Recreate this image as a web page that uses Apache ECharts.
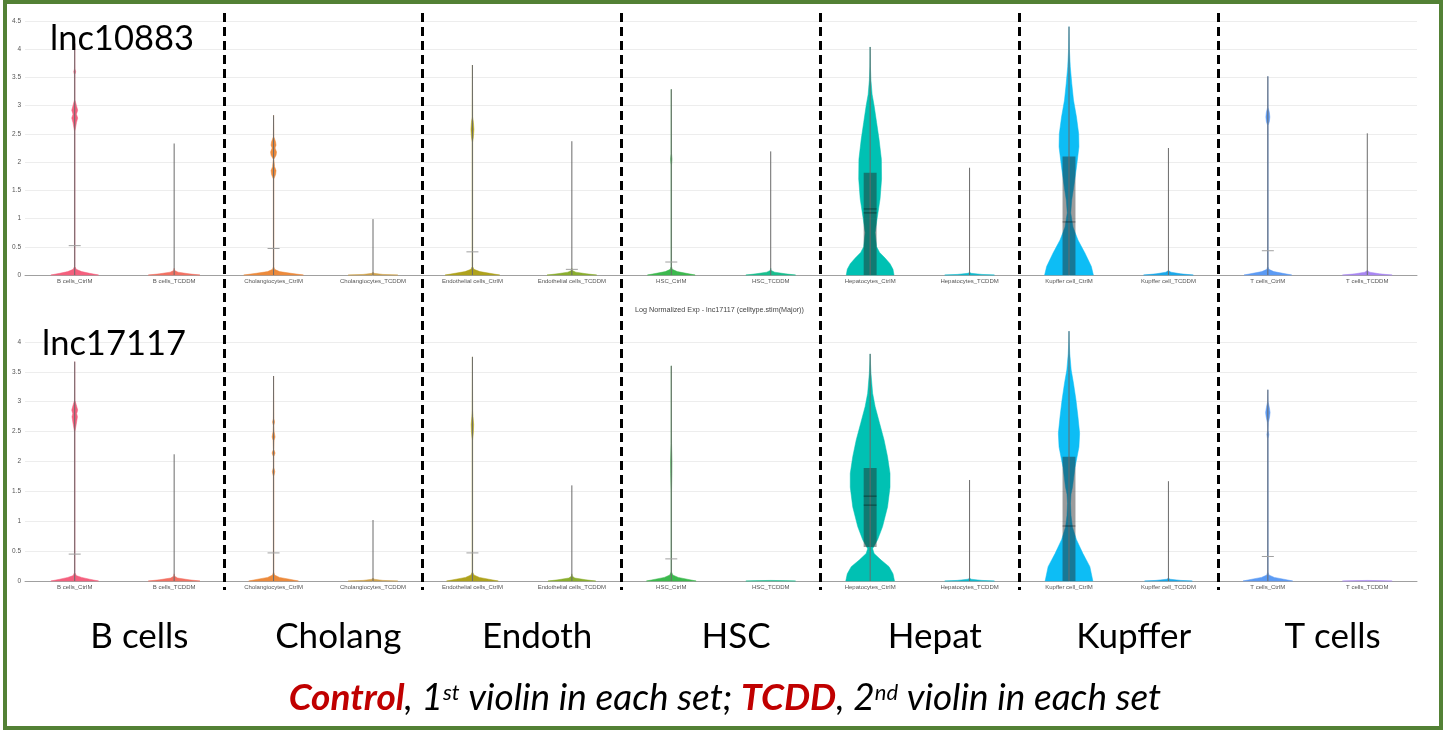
<!DOCTYPE html>
<html>
<head>
<meta charset="utf-8">
<script src="https://cdn.jsdelivr.net/npm/echarts@6/dist/echarts.min.js"></script>
<style>
html, body { margin: 0; padding: 0; background: #fff; }
#chart { width: 1450px; height: 732px; }
</style>
</head>
<body>
<div id="chart"></div>
<script>
const categories = [
  'B cells_CtrlM', 'B cells_TCDDM', 'Cholangiocytes_CtrlM', 'Cholangiocytes_TCDDM',
  'Endothelial cells_CtrlM', 'Endothelial cells_TCDDM', 'HSC_CtrlM', 'HSC_TCDDM',
  'Hepatocytes_CtrlM', 'Hepatocytes_TCDDM', 'Kupffer cell_CtrlM', 'Kupffer cell_TCDDM',
  'T cells_CtrlM', 'T cells_TCDDM'
];
const groups = ['B cells', 'Cholang', 'Endoth', 'HSC', 'Hepat', 'Kupffer', 'T cells'];
const colors = [
  '#F4607E', '#F27163', '#EC8A3C', '#CFA048', '#AFA21D', '#8AAE2E', '#3CB94E',
  '#18BF8E', '#00C1B3', '#10B9CC', '#0DBDF5', '#1AA8EA', '#5C9BF4', '#A886F2'
];

// lnc10883 (top panel)
const maxTop = [4.1, 2.33, 2.83, 0.99, 3.72, 2.37, 3.29, 2.19, 4.04, 1.9, 4.4, 2.25, 3.52, 2.51];
const markTop = [0.52, null, 0.47, null, 0.41, 0.1, 0.23, null, null, null, null, null, 0.43, null];
const boxQ1Top = [null, null, null, null, null, null, null, null, 0, null, 0, null, null, null];
const boxQ3Top = [null, null, null, null, null, null, null, null, 1.81, null, 2.1, null, null, null];
const boxMedTop = [null, null, null, null, null, null, null, null, 1.17, null, 0.94, null, null, null];
const boxMeanTop = [null, null, null, null, null, null, null, null, 1.1, null, null, null, null, null];
// [value, density] ; density 1 = half of a category band
const violinTop = [
  [[0, 0.48], [0.03, 0.3], [0.06, 0.14], [0.1, 0.03], [0.15, 0.005], [2.55, 0.005], [2.7, 0.035], [2.78, 0.06], [2.85, 0.035], [2.92, 0.06], [3.0, 0.035], [3.1, 0.005], [3.55, 0.005], [3.6, 0.02], [3.65, 0.005], [4.1, 0]],
  [[0, 0.52], [0.02, 0.3], [0.05, 0.08], [0.08, 0.01], [0.12, 0]],
  [[0, 0.6], [0.03, 0.35], [0.06, 0.12], [0.1, 0.02], [0.15, 0.005], [1.7, 0.005], [1.78, 0.04], [1.85, 0.05], [1.92, 0.02], [2.05, 0.005], [2.12, 0.05], [2.18, 0.06], [2.25, 0.03], [2.3, 0.05], [2.36, 0.04], [2.45, 0.005], [2.83, 0]],
  [[0, 0.5], [0.01, 0.2], [0.03, 0.02], [0.05, 0]],
  [[0, 0.55], [0.03, 0.35], [0.06, 0.15], [0.1, 0.03], [0.15, 0.005], [2.35, 0.005], [2.45, 0.02], [2.58, 0.03], [2.7, 0.02], [2.8, 0.005], [3.72, 0]],
  [[0, 0.5], [0.02, 0.3], [0.05, 0.08], [0.08, 0.01], [0.12, 0]],
  [[0, 0.48], [0.03, 0.3], [0.06, 0.12], [0.1, 0.02], [0.15, 0.005], [1.95, 0.005], [2.05, 0.015], [2.15, 0.005], [3.29, 0]],
  [[0, 0.5], [0.02, 0.3], [0.05, 0.08], [0.08, 0.01], [0.12, 0]],
  [[0, 0.48], [0.1, 0.46], [0.2, 0.4], [0.3, 0.3], [0.4, 0.19], [0.5, 0.13], [0.75, 0.1], [1.0, 0.14], [1.35, 0.2], [1.7, 0.23], [2.05, 0.226], [2.4, 0.18], [2.7, 0.13], [3.0, 0.08], [3.2, 0.04], [3.45, 0.016], [3.7, 0.005], [4.04, 0]],
  [[0, 0.5], [0.01, 0.25], [0.03, 0.03], [0.05, 0]],
  [[0, 0.49], [0.15, 0.45], [0.39, 0.32], [0.62, 0.18], [0.85, 0.08], [1.1, 0.035], [1.33, 0.055], [1.56, 0.095], [1.91, 0.15], [2.27, 0.2], [2.5, 0.195], [2.8, 0.15], [3.1, 0.09], [3.39, 0.056], [3.69, 0.026], [4.0, 0.008], [4.4, 0]],
  [[0, 0.5], [0.02, 0.25], [0.05, 0.05], [0.08, 0]],
  [[0, 0.48], [0.03, 0.3], [0.06, 0.12], [0.1, 0.02], [0.15, 0.005], [2.65, 0.005], [2.72, 0.03], [2.8, 0.04], [2.88, 0.03], [2.97, 0.005], [3.52, 0]],
  [[0, 0.5], [0.02, 0.25], [0.05, 0.05], [0.08, 0]]
];

// lnc17117 (bottom panel)
const maxBottom = [3.67, 2.12, 3.43, 1.02, 3.75, 1.6, 3.6, null, 3.8, 1.69, 4.18, 1.67, 3.2, null];
const markBottom = [0.45, null, 0.47, null, 0.47, null, 0.37, null, null, null, null, null, 0.41, null];
const boxQ1Bottom = [null, null, null, null, null, null, null, null, 0.57, null, 0, null, null, null];
const boxQ3Bottom = [null, null, null, null, null, null, null, null, 1.89, null, 2.08, null, null, null];
const boxMedBottom = [null, null, null, null, null, null, null, null, 1.42, null, 0.92, null, null, null];
const boxMeanBottom = [null, null, null, null, null, null, null, null, 1.27, null, null, null, null, null];
const violinBottom = [
  [[0, 0.48], [0.03, 0.3], [0.06, 0.14], [0.09, 0.03], [0.14, 0.005], [2.5, 0.005], [2.62, 0.03], [2.75, 0.055], [2.8, 0.04], [2.86, 0.06], [2.95, 0.03], [3.02, 0.005], [3.67, 0]],
  [[0, 0.52], [0.02, 0.3], [0.05, 0.07], [0.08, 0.01], [0.12, 0]],
  [[0, 0.5], [0.03, 0.32], [0.06, 0.12], [0.1, 0.02], [0.15, 0.005], [1.75, 0.005], [1.83, 0.025], [1.9, 0.005], [2.08, 0.005], [2.14, 0.03], [2.2, 0.005], [2.35, 0.01], [2.41, 0.03], [2.5, 0.01], [2.6, 0.005], [2.66, 0.02], [2.72, 0.005], [3.43, 0]],
  [[0, 0.5], [0.01, 0.2], [0.03, 0.02], [0.05, 0]],
  [[0, 0.52], [0.03, 0.33], [0.06, 0.14], [0.1, 0.03], [0.15, 0.005], [2.35, 0.005], [2.5, 0.02], [2.62, 0.025], [2.75, 0.012], [2.85, 0.005], [3.75, 0]],
  [[0, 0.48], [0.02, 0.28], [0.05, 0.06], [0.08, 0.01], [0.12, 0]],
  [[0, 0.5], [0.03, 0.32], [0.06, 0.14], [0.1, 0.03], [0.15, 0.005], [1.5, 0.005], [1.8, 0.012], [2.0, 0.014], [2.3, 0.005], [3.6, 0]],
  [[0, 0.5], [0.005, 0.3], [0.01, 0]],
  [[0, 0.49], [0.12, 0.46], [0.24, 0.38], [0.35, 0.22], [0.46, 0.08], [0.54, 0.05], [0.69, 0.15], [0.91, 0.25], [1.24, 0.35], [1.57, 0.4], [1.8, 0.4], [2.08, 0.35], [2.36, 0.28], [2.64, 0.19], [2.92, 0.1], [3.14, 0.05], [3.48, 0.016], [3.7, 0.004], [3.8, 0]],
  [[0, 0.5], [0.01, 0.25], [0.03, 0.03], [0.05, 0]],
  [[0, 0.48], [0.24, 0.42], [0.46, 0.28], [0.69, 0.15], [0.9, 0.07], [1.1, 0.04], [1.3, 0.03], [1.45, 0.04], [1.57, 0.07], [1.9, 0.12], [2.24, 0.2], [2.47, 0.214], [2.75, 0.18], [3.03, 0.14], [3.31, 0.09], [3.53, 0.044], [3.8, 0.016], [4.0, 0.004], [4.18, 0]],
  [[0, 0.48], [0.01, 0.25], [0.03, 0.03], [0.05, 0]],
  [[0, 0.5], [0.03, 0.32], [0.06, 0.13], [0.1, 0.02], [0.15, 0.005], [2.38, 0.005], [2.45, 0.02], [2.52, 0.005], [2.65, 0.01], [2.75, 0.035], [2.82, 0.045], [2.9, 0.03], [3.0, 0.005], [3.2, 0]],
  [[0, 0.5], [0.005, 0.3], [0.01, 0]]
];

function violinRenderer(profiles, maxVals, marks, q1, q3, med, mean) {
  return function (params, api) {
    const i = params.dataIndex;
    const half = api.size([1, 0])[0] / 2;
    const cx = api.coord([i, 0])[0];
    const y0 = api.coord([i, 0])[1];
    const left = [], right = [];
    profiles[i].forEach(function (p) {
      const y = api.coord([i, p[0]])[1];
      left.push([cx - p[1] * half, y]);
      right.unshift([cx + p[1] * half, y]);
    });
    const children = [{
      type: 'polygon',
      shape: { points: left.concat(right) },
      style: { fill: colors[i], stroke: colors[i], lineWidth: 0.5 }
    }];
    if (q3[i] != null) {
      const yTop = api.coord([i, q3[i]])[1];
      const yBot = api.coord([i, q1[i]])[1];
      children.push({
        type: 'rect',
        shape: { x: cx - 0.13 * half, y: yTop, width: 0.26 * half, height: yBot - yTop },
        style: { fill: 'rgba(35,35,35,0.45)' }
      });
    }
    if (maxVals[i] != null) {
      children.push({
        type: 'line',
        shape: { x1: cx, y1: y0, x2: cx, y2: api.coord([i, maxVals[i]])[1] },
        style: { stroke: '#6a6a6a', lineWidth: 1 }
      });
    }
    if (marks[i] != null) {
      const ym = api.coord([i, marks[i]])[1];
      children.push({
        type: 'line',
        shape: { x1: cx - 6, y1: ym, x2: cx + 6, y2: ym },
        style: { stroke: '#a0a0a0', lineWidth: 1 }
      });
    }
    [med[i], mean[i]].forEach(function (v) {
      if (v == null) return;
      const yv = api.coord([i, v])[1];
      children.push({
        type: 'line',
        shape: { x1: cx - 0.13 * half, y1: yv, x2: cx + 0.13 * half, y2: yv },
        style: { stroke: 'rgba(0,0,0,0.45)', lineWidth: 1 }
      });
    });
    return { type: 'group', children: children };
  };
}

const catAxis = function (gridIndex) {
  return {
    type: 'category', gridIndex: gridIndex, data: categories, boundaryGap: true,
    axisLine: { lineStyle: { color: '#a0a0a0', width: 1 } },
    axisTick: { show: false },
    axisLabel: { interval: 0, fontSize: 6, color: '#555', margin: 3, fontFamily: 'Liberation Sans' },
    splitLine: { show: false }
  };
};
const valAxis = function (gridIndex, max) {
  return {
    type: 'value', gridIndex: gridIndex, min: 0, max: max, interval: 0.5,
    axisLine: { show: false }, axisTick: { show: false },
    axisLabel: { fontSize: 6.5, color: '#555', margin: 4, showMaxLabel: max === 4.5, fontFamily: 'Liberation Sans' },
    splitLine: { showMaxLine: max === 4.5, lineStyle: { color: '#ededed', width: 1 } }
  };
};

const chart = echarts.init(document.getElementById('chart'), null, { renderer: 'canvas' });
chart.setOption({
  animation: false,
  backgroundColor: '#fff',
  title: [{
    text: 'Log Normalized Exp - lnc17117 (celltype.stim(Major))',
    left: 630, top: 302,
    textStyle: { fontSize: 7.2, fontWeight: 'normal', color: '#444', fontFamily: 'Liberation Sans' }
  }],
  grid: [
    { left: 25, right: 33, top: 21, height: 254 },
    { left: 25, right: 33, top: 324, height: 257 },
    { left: 25, right: 33, top: 13, height: 577 }
  ],
  xAxis: [
    catAxis(0), catAxis(1),
    {
      type: 'category', gridIndex: 2, data: groups, boundaryGap: true,
      axisLine: { show: false }, axisTick: { show: false },
      axisLabel: { interval: 0, fontSize: 35, color: '#000', margin: 29, fontFamily: 'Lato', padding: [0, 0, 0, 30] },
      splitLine: {
        show: true, interval: 0, showMinLine: false, showMaxLine: false,
        lineStyle: { color: '#000', width: 3, type: [9, 5] }
      },
      z: 10
    }
  ],
  yAxis: [
    valAxis(0, 4.5), valAxis(1, 4.3),
    { type: 'value', gridIndex: 2, show: false, splitLine: { show: false } }
  ],
  series: [
    {
      type: 'custom', xAxisIndex: 0, yAxisIndex: 0,
      data: categories.map(function (c, i) { return [i, maxTop[i] || 0]; }),
      renderItem: violinRenderer(violinTop, maxTop, markTop, boxQ1Top, boxQ3Top, boxMedTop, boxMeanTop)
    },
    {
      type: 'custom', xAxisIndex: 1, yAxisIndex: 1,
      data: categories.map(function (c, i) { return [i, maxBottom[i] || 0]; }),
      renderItem: violinRenderer(violinBottom, maxBottom, markBottom, boxQ1Bottom, boxQ3Bottom, boxMedBottom, boxMeanBottom)
    }
  ],
  graphic: [
    {
      type: 'text', left: 50, top: 21, z: 50,
      style: { text: 'lnc10883', fontSize: 34.5, fontFamily: 'Lato', fill: '#000' }
    },
    {
      type: 'text', left: 42, top: 326, z: 50,
      style: { text: 'lnc17117', fontSize: 34.5, fontFamily: 'Lato', fill: '#000' }
    },
    {
      type: 'text', left: 'center', top: 676, z: 50,
      style: {
        text: '{c|Control}{t|, 1}{s|st}{t| violin in each set; }{c|TCDD}{t|, 2}{s|nd}{t| violin in each set}',
        rich: {
          c: { fontSize: 37, fontFamily: 'Lato', fontStyle: 'italic', fontWeight: 'bold', fill: '#C00000', lineHeight: 44 },
          t: { fontSize: 37, fontFamily: 'Lato', fontStyle: 'italic', fill: '#000', lineHeight: 44 },
          s: { fontSize: 22, fontFamily: 'Lato', fontStyle: 'italic', fill: '#000', lineHeight: 44, verticalAlign: 'top', padding: [6, 0, 0, 0] }
        }
      }
    },
    {
      type: 'rect', z: 100, silent: true,
      shape: { x: 5, y: 2, width: 1436, height: 726 },
      style: { fill: 'none', stroke: '#538135', lineWidth: 4 }
    }
  ]
});
</script>
</body>
</html>
